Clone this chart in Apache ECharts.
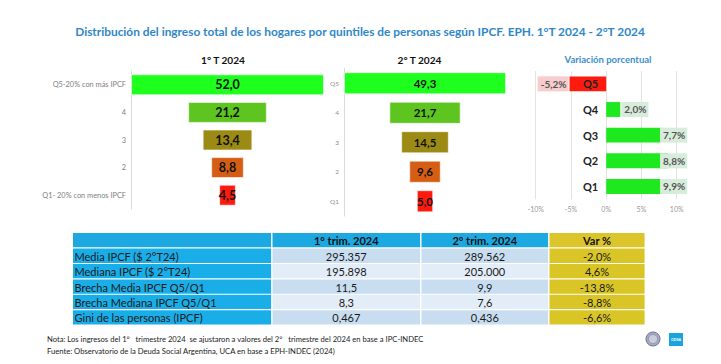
<!DOCTYPE html>
<html><head><meta charset="utf-8">
<script src="https://cdn.jsdelivr.net/npm/echarts@6/dist/echarts.min.js"></script>
<style>html,body{margin:0;padding:0;background:#fff}#c{width:721px;height:364px}</style>
</head><body><div id="c"></div>
<script>
// ---------- data ----------
const chartTitle = 'Distribución del ingreso total de los hogares por quintiles de personas según IPCF. EPH. 1°T 2024 - 2°T 2024';
const panelTitles = ['1° T 2024', '2° T 2024', 'Variación porcentual'];
const quintileLabels1 = ['Q5-20% con más IPCF', '4', '3', '2', 'Q1- 20% con menos IPCF'];
const quintileLabels2 = ['Q5', '4', '3', '2', 'Q1'];
const quintileLabels3 = ['Q5', 'Q4', 'Q3', 'Q2', 'Q1'];
const share1T = [52.0, 21.2, 13.4, 8.8, 4.5];
const share2T = [49.3, 21.7, 14.5, 9.6, 5.0];
const variation = [-5.2, 2.0, 7.7, 8.8, 9.9];
const quintileColors = ['#1eff1e', '#5ec41f', '#9b8a13', '#d65e14', '#ff1a0e'];
const varMin = -10, varMax = 10, varInterval = 5;

const tableHeaders = ['', '1° trim. 2024', '2° trim. 2024', 'Var %'];
const tableRowLabels = ['Media IPCF ($ 2°T24)', 'Mediana IPCF ($ 2°T24)', 'Brecha Media IPCF Q5/Q1', 'Brecha Mediana IPCF Q5/Q1', 'Gini de las personas (IPCF)'];
const table1T = ['295.357', '195.898', '11,5', '8,3', '0,467'];
const table2T = ['289.562', '205.000', '9,9', '7,6', '0,436'];
const tableVar = ['-2,0%', '4,6%', '-13,8%', '-8,8%', '-6,6%'];

const noteLines = [
  'Nota: Los ingresos del 1°   trimestre 2024  se ajustaron a valores del 2°   trimestre del 2024 en base a IPC-INDEC',
  'Fuente: Observatorio de la Deuda Social Argentina, UCA en base a EPH-INDEC (2024)'
];

// ---------- helpers ----------
const fmt1 = v => v.toFixed(1).replace('.', ',');
const HUM = 'Lato';
const SANS = '"Liberation Sans",Arial,sans-serif';
const mctx = document.createElement('canvas').getContext('2d');
function fitSize(text, weight, family, targetWidth) {
  mctx.font = weight + ' 100px "' + family + '"';
  return 100 * targetWidth / mctx.measureText(text).width;
}
function textWidth(text, weight, size, family) {
  mctx.font = weight + ' ' + size + 'px "' + family + '"';
  return mctx.measureText(text).width;
}
const titleSize = fitSize(chartTitle, 'bold', HUM, 571);
const noteSize = fitSize(noteLines[0], 'normal', HUM, 377);
const panelTitleSize = fitSize(panelTitles[0], 'bold', HUM, 44.5);
const varTitleSize = fitSize(panelTitles[2], 'bold', HUM, 87);
const tableSize = fitSize(tableRowLabels[3], 'normal', HUM, 142.5);
const axis1Size = fitSize(quintileLabels1[0], 'normal', HUM, 73.5);

function funnelSeries(values, axisIdx, stackId, barW, fontSize) {
  const mx = Math.max(...values);
  return [
    { type: 'bar', xAxisIndex: axisIdx, yAxisIndex: axisIdx, stack: stackId, silent: true,
      barWidth: barW, itemStyle: { color: 'rgba(0,0,0,0)' },
      data: values.map(v => (mx - v) / 2) },
    { type: 'bar', xAxisIndex: axisIdx, yAxisIndex: axisIdx, stack: stackId, barWidth: barW,
      data: values.map((v, i) => ({ value: v, itemStyle: { color: quintileColors[i], borderColor: 'rgba(255,255,255,0.6)', borderWidth: 1 } })),
      label: { show: true, position: 'inside', formatter: p => fmt1(p.value), fontWeight: 'bold',
               fontSize: fontSize, color: '#111', fontFamily: HUM } }
  ];
}

// ---------- table via graphic ----------
const colX = [73, 272.5, 421.5, 549.5, 646];
const headerY = 233, headerH = 14.2, rowY0 = 248.6, rowPitch = 15.4, rowH = 14.3;
const tableEls = [];
tableHeaders.forEach((h, c) => {
  const x = colX[c], w = colX[c + 1] - x - 1.4;
  tableEls.push({ type: 'rect', shape: { x, y: headerY, width: w, height: headerH },
    style: { fill: c === 3 ? '#dcc52b' : '#1ca9e2' } });
  if (h) tableEls.push({ type: 'text', style: { text: h, x: x + w / 2, y: headerY + headerH / 2 + 0.5,
    align: 'center', verticalAlign: 'middle', fontSize: tableSize, fontWeight: 'bold', fontFamily: HUM, fill: '#111' } });
});
tableRowLabels.forEach((lab, r) => {
  const y = rowY0 + r * rowPitch;
  const cells = [lab, table1T[r], table2T[r], tableVar[r]];
  cells.forEach((t, c) => {
    const x = colX[c], w = colX[c + 1] - x - 1.4;
    let fill = c === 0 ? '#1aaee8' : c === 3 ? '#d9c626' : (r % 2 === 0 ? '#c8ddf0' : '#e2edf8');
    tableEls.push({ type: 'rect', shape: { x, y, width: w, height: rowH }, style: { fill } });
    tableEls.push({ type: 'text', style: { text: t, x: c === 0 ? x + 1.5 : x + w / 2, y: y + rowH / 2 + 0.5,
      align: c === 0 ? 'left' : 'center', verticalAlign: 'middle', fontSize: tableSize, fontFamily: HUM, fill: '#1a1a1a' } });
  });
});

const graphics = [
  { type: 'text', style: { text: chartTitle, x: 360, y: 31, align: 'center', verticalAlign: 'middle',
      fontSize: titleSize, fontWeight: 'bold', fontFamily: HUM, fill: '#2f87c9' } },
  { type: 'text', style: { text: panelTitles[0], x: 223, y: 60, align: 'center', verticalAlign: 'middle',
      fontSize: panelTitleSize, fontWeight: 'bold', fontFamily: HUM, fill: '#111' } },
  { type: 'text', style: { text: panelTitles[1], x: 419.5, y: 60, align: 'center', verticalAlign: 'middle',
      fontSize: panelTitleSize, fontWeight: 'bold', fontFamily: HUM, fill: '#111' } },
  { type: 'text', style: { text: panelTitles[2], x: 608, y: 59, align: 'center', verticalAlign: 'middle',
      fontSize: varTitleSize, fontFamily: HUM, fontWeight: 'bold', fill: '#3a8fd0' } },
  ...tableEls,
  { type: 'text', style: { text: noteLines[0], x: 47, y: 339, align: 'left', verticalAlign: 'middle',
      fontSize: noteSize, fontFamily: HUM, fill: '#222' } },
  { type: 'text', style: { text: noteLines[1], x: 47, y: 351, align: 'left', verticalAlign: 'middle',
      fontSize: noteSize, fontFamily: HUM, fill: '#222' } },
  { type: 'circle', shape: { cx: 653, cy: 339, r: 7 }, style: { fill: '#a6abc2', stroke: '#6f7594', lineWidth: 1 } },
  { type: 'circle', shape: { cx: 653, cy: 339, r: 4.5 }, style: { fill: '#c9cddc', stroke: '#7d83a0', lineWidth: 0.6 } },
  { type: 'rect', shape: { x: 669, y: 333, width: 14, height: 13 }, style: { fill: '#1aa3dc' } },
  { type: 'text', style: { text: 'ODSA', x: 676, y: 339.5, align: 'center', verticalAlign: 'middle',
      fontSize: 3.5, fontWeight: 'bold', fontFamily: SANS, fill: '#fff' } }
];

// ---------- chart ----------
const chart = echarts.init(document.getElementById('c'), null, { renderer: 'svg' });
const lightAxis = { show: true, lineStyle: { color: '#d9d9d9', width: 1 } };
const varGrid = { left: 535.7, top: 71, width: 141, height: 128.3 };
// place the category axis of the variation panel on the value 0
const varZeroOffset = -varGrid.width * (0 - varMin) / (varMax - varMin);
// labels that would run past the plot area are kept inside it (as the spreadsheet does)
const labelLimit = varGrid.left + varGrid.width + 10.5;
const varLabelFont = 10, varLabelPad = [3, 2, 2, 3];
function varLabel(v) {
  const txt = fmt1(v) + '%';
  const boxW = textWidth(txt, 'bold', varLabelFont, HUM) + varLabelPad[1] + varLabelPad[3];
  const barEnd = varGrid.left + varGrid.width * (v - varMin) / (varMax - varMin);
  if (v < 0) return { position: 'left', backgroundColor: '#f7cccc' };
  if (barEnd + 1 + boxW <= labelLimit) return { position: 'right', backgroundColor: '#d8ecdc' };
  return { position: 'insideRight', distance: 0, offset: [labelLimit - barEnd, 0], backgroundColor: '#d8ecdc' };
}

chart.setOption({
  animation: false,
  backgroundColor: '#fff',
  grid: [
    { left: 131, top: 71, width: 193, height: 138 },
    { left: 344, top: 68.5, width: 162, height: 147.5 },
    varGrid
  ],
  xAxis: [
    { gridIndex: 0, type: 'value', min: 0, max: Math.max(...share1T), show: false },
    { gridIndex: 1, type: 'value', min: 0, max: Math.max(...share2T), show: false },
    { gridIndex: 2, type: 'value', min: varMin, max: varMax, interval: varInterval,
      axisLine: { show: false }, axisTick: { show: false },
      splitLine: { show: true, lineStyle: { color: '#e3e3e3' } },
      axisLabel: { formatter: '{value}%', fontSize: 7, color: '#999', fontFamily: HUM, margin: 6 } }
  ],
  yAxis: [
    { gridIndex: 0, type: 'category', inverse: true, data: quintileLabels1, axisLine: lightAxis,
      axisTick: { show: false }, axisLabel: { fontSize: axis1Size, color: '#808080', fontFamily: HUM, margin: 5 } },
    { gridIndex: 1, type: 'category', inverse: true, data: quintileLabels2, axisLine: lightAxis,
      axisTick: { show: false }, axisLabel: { fontSize: 6.5, color: '#909090', fontFamily: HUM, margin: 5 } },
    { gridIndex: 2, type: 'category', inverse: true, data: quintileLabels3, z: 10, offset: varZeroOffset,
      axisLine: { show: false, onZero: false }, axisTick: { show: false },
      axisLabel: { fontSize: 11, fontWeight: 'bold', color: '#222', fontFamily: HUM, margin: 8 } }
  ],
  series: [
    ...funnelSeries(share1T, 0, 'p1', '76%', 12.5),
    ...funnelSeries(share2T, 1, 'p2', '75%', 11.5),
    { type: 'bar', xAxisIndex: 2, yAxisIndex: 2, barWidth: '58%',
      data: variation.map(v => ({
        value: v,
        itemStyle: { color: v < 0 ? '#ff1a0e' : '#1ee81e' },
        label: varLabel(v)
      })),
      label: { show: true, formatter: p => fmt1(p.value) + '%', fontSize: varLabelFont, fontWeight: 'bold',
               color: '#555', fontFamily: HUM, padding: varLabelPad, distance: 1 } }
  ],
  graphic: graphics
});
</script></body></html>
